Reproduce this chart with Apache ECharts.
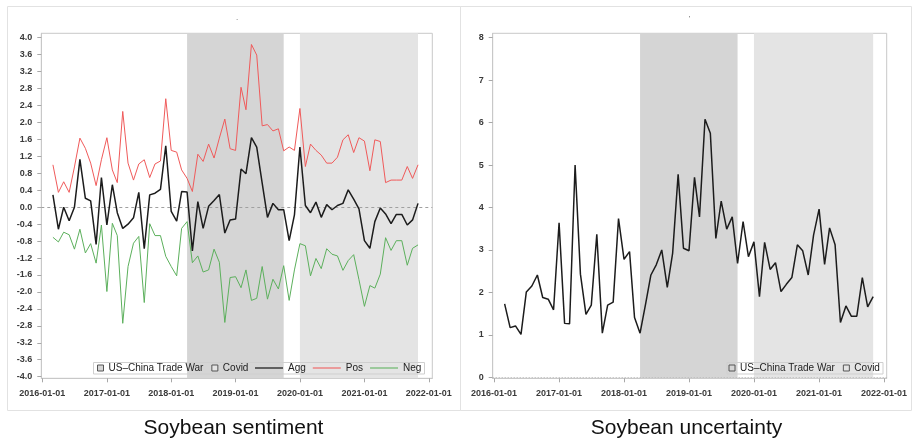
<!DOCTYPE html>
<html><head><meta charset="utf-8">
<script src="https://cdn.jsdelivr.net/npm/echarts@6/dist/echarts.min.js"></script>
<style>html,body{margin:0;padding:0;background:#fff}#c{width:912px;height:440px}</style>
</head><body><div id="c"></div>
<script>
const months = ['2016-03-01','2016-04-01','2016-05-01','2016-06-01','2016-07-01','2016-08-01','2016-09-01','2016-10-01','2016-11-01','2016-12-01',
'2017-01-01','2017-02-01','2017-03-01','2017-04-01','2017-05-01','2017-06-01','2017-07-01','2017-08-01','2017-09-01','2017-10-01','2017-11-01','2017-12-01',
'2018-01-01','2018-02-01','2018-03-01','2018-04-01','2018-05-01','2018-06-01','2018-07-01','2018-08-01','2018-09-01','2018-10-01','2018-11-01','2018-12-01',
'2019-01-01','2019-02-01','2019-03-01','2019-04-01','2019-05-01','2019-06-01','2019-07-01','2019-08-01','2019-09-01','2019-10-01','2019-11-01','2019-12-01',
'2020-01-01','2020-02-01','2020-03-01','2020-04-01','2020-05-01','2020-06-01','2020-07-01','2020-08-01','2020-09-01','2020-10-01','2020-11-01','2020-12-01',
'2021-01-01','2021-02-01','2021-03-01','2021-04-01','2021-05-01','2021-06-01','2021-07-01','2021-08-01','2021-09-01','2021-10-01','2021-11-01'];
const agg = [0.29,-0.52,0.0,-0.32,0.0,1.13,0.21,0.15,-0.88,0.70,-0.42,0.53,-0.13,-0.5,-0.4,-0.25,0.35,-0.98,0.29,0.33,0.42,1.45,-0.1,-0.33,0.37,0.36,-1.03,0.13,-0.5,0.02,0.16,0.3,-0.61,-0.3,-0.28,0.9,0.79,1.64,1.42,0.57,-0.24,0.09,-0.06,-0.06,-0.79,-0.18,1.42,0.04,-0.13,0.12,-0.24,0.06,-0.06,0.04,0.09,0.41,0.19,-0.04,-0.79,-0.97,-0.34,-0.02,-0.16,-0.39,-0.17,-0.17,-0.42,-0.3,0.09];
const pos = [1.0,0.35,0.6,0.35,0.95,1.63,1.39,1.04,0.51,1.12,1.64,0.88,0.58,2.26,1.04,0.64,1.02,1.12,0.7,1.02,1.09,2.56,1.34,1.3,0.88,0.68,0.37,1.25,1.08,1.49,1.16,1.63,2.08,1.38,1.34,2.83,2.3,3.84,3.59,1.92,1.95,1.8,1.85,1.33,1.42,1.34,2.33,0.96,1.49,1.34,1.23,1.04,1.04,1.18,1.59,1.71,1.29,1.64,1.56,0.86,1.59,1.55,0.58,0.64,0.64,0.64,0.96,0.68,1.0];
const neg = [-0.71,-0.82,-0.59,-0.65,-0.99,-0.52,-1.08,-0.86,-1.32,-0.42,-1.99,-0.38,-0.67,-2.74,-1.4,-0.85,-0.69,-2.25,-0.39,-0.67,-0.67,-1.16,-1.4,-1.62,-0.5,-0.34,-1.31,-1.15,-1.53,-1.48,-0.99,-1.3,-2.72,-1.66,-1.64,-1.9,-1.48,-2.2,-2.15,-1.4,-2.17,-1.7,-1.93,-1.38,-2.2,-1.48,-0.86,-0.91,-1.62,-1.21,-1.45,-0.98,-1.11,-1.15,-1.49,-1.26,-1.12,-1.71,-2.34,-1.85,-1.91,-1.58,-0.72,-1.02,-0.79,-0.79,-1.37,-0.97,-0.89];
const unc = [1.73,1.17,1.21,1.01,2.01,2.15,2.41,1.88,1.84,1.59,3.64,1.27,1.26,5.0,2.43,1.48,1.7,3.37,1.04,1.7,1.77,3.74,2.78,2.96,1.41,1.04,1.7,2.41,2.65,3.0,2.12,2.92,4.78,3.04,2.98,4.71,3.78,6.08,5.75,3.27,4.15,3.49,3.78,2.68,3.67,2.84,3.19,1.9,3.18,2.54,2.7,2.02,2.19,2.35,3.12,2.98,2.41,3.35,3.96,2.66,3.52,3.12,1.29,1.68,1.44,1.44,2.35,1.66,1.9];
const yearTicks = ['2016-01-01','2017-01-01','2018-01-01','2019-01-01','2020-01-01','2021-01-01','2022-01-01'];
const sentTicks = [-4.0,-3.6,-3.2,-2.8,-2.4,-2.0,-1.6,-1.2,-0.8,-0.4,0.0,0.4,0.8,1.2,1.6,2.0,2.4,2.8,3.2,3.6,4.0];
const uncTicks = [0,1,2,3,4,5,6,7,8];
const tradeWar = ['2018-04-01','2019-10-01'];
const covid = ['2020-01-01','2021-11-01'];
const titles = ['Soybean sentiment','Soybean uncertainty'];

const FONT = '"Liberation Sans", Arial, sans-serif';
function ts(s){const p=s.split('-');return new Date(+p[0],+p[1]-1,+p[2]).getTime();}
function pad(n){return (n<10?'0':'')+n;}
function fmt(v){const d=new Date(v);return d.getFullYear()+'-'+pad(d.getMonth()+1)+'-'+pad(d.getDate());}
const yearTs = yearTicks.map(ts);
const AX = '#c8c8c8', TK = '#a8a8a8', LBL = '#3a3a3a';
const TW_COL = '#d5d5d5', CV_COL = '#e4e4e4';
const AGG_COL = '#1c1c1c', POS_COL = '#f05a5a', NEG_COL = '#5cb05c';

function xAx(gi,min,max){return {type:'value',gridIndex:gi,min:min,max:max,scale:true,
  axisLine:{show:true,onZero:false,lineStyle:{color:AX}},
  axisTick:{show:true,length:4,lineStyle:{color:TK},customValues:yearTs},
  axisLabel:{customValues:yearTs,formatter:fmt,fontSize:9,fontWeight:'bold',color:LBL,margin:11,fontFamily:FONT,hideOverlap:false},
  splitLine:{show:false}};}
function yAx(gi,min,max,ticks,f){return {type:'value',gridIndex:gi,min:min,max:max,
  axisLine:{show:true,onZero:false,lineStyle:{color:AX}},
  axisTick:{show:true,length:4,lineStyle:{color:TK},customValues:ticks},
  axisLabel:{customValues:ticks,formatter:f,fontSize:9,fontWeight:'bold',color:LBL,margin:9,fontFamily:FONT},
  splitLine:{show:false}};}
function shade(name,gi,range,col){return {name:name,type:'line',xAxisIndex:gi,yAxisIndex:gi,data:[],symbol:'none',z:1,
  lineStyle:{color:col},itemStyle:{color:col},
  markArea:{silent:true,itemStyle:{color:col},data:[[{xAxis:ts(range[0])},{xAxis:ts(range[1])}]]}};}
function ln(name,gi,vals,col,w,z){return {name:name,type:'line',xAxisIndex:gi,yAxisIndex:gi,symbol:'none',z:z,
  data:months.map((m,i)=>[ts(m),vals[i]]),lineStyle:{color:col,width:w},itemStyle:{color:col},emphasis:{disabled:true}};}

const legendText = {fontSize:10,color:'#222',fontFamily:FONT,lineHeight:11};
const sq = n => ({name:n,icon:'rect',itemStyle:{color:n==='Covid'?CV_COL:TW_COL,borderColor:'#555',borderWidth:1}});
const li = (n,c) => ({name:n,icon:'rect',itemStyle:{color:c,borderWidth:0,opacity:n==='Agg'?0.85:0.7}});

const aggS = ln('Agg',0,agg,AGG_COL,1.5,5);
aggS.markLine = {silent:true,symbol:'none',label:{show:false},lineStyle:{color:'#a0a0a0',type:[3,3],width:1},data:[{yAxis:0}]};
const uncS = ln('Uncertainty',1,unc,AGG_COL,1.5,5);
uncS.markLine = {silent:true,symbol:'none',label:{show:false},lineStyle:{color:'#b8b8b8',type:[1,2],width:1},data:[{yAxis:0}]};

const option = {
  animation:false,
  backgroundColor:'#fff',
  tooltip:{show:false},
  grid:[
    {left:41.3,top:33.3,width:391,height:345,show:true,borderColor:AX,borderWidth:1,backgroundColor:'transparent'},
    {left:492.7,top:33.3,width:394,height:345,show:true,borderColor:AX,borderWidth:1,backgroundColor:'transparent'}
  ],
  xAxis:[xAx(0,ts('2015-12-26'),ts('2022-01-21')), xAx(1,ts('2015-12-25'),ts('2022-01-16'))],
  yAxis:[yAx(0,-4.038,4.104,sentTicks,v=>(+v).toFixed(1)), yAx(1,-0.024,8.104,uncTicks,v=>String(Math.round(v)))],
  legend:[
    {left:97,top:362.5,padding:0,itemWidth:6,itemHeight:6,itemGap:8,data:[sq('US–China Trade War'),sq('Covid')],textStyle:legendText},
    {left:255,top:362.5,padding:0,itemWidth:28,itemHeight:1.5,itemGap:7,data:[li('Agg',AGG_COL),li('Pos',POS_COL),li('Neg',NEG_COL)],textStyle:legendText},
    {left:728.5,top:362.5,padding:0,itemWidth:6,itemHeight:6,itemGap:8,data:[sq('US–China Trade War'),sq('Covid')],textStyle:legendText}
  ],
  series:[
    shade('US–China Trade War',0,tradeWar,TW_COL),
    shade('Covid',0,covid,CV_COL),
    ln('Neg',0,neg,NEG_COL,1,3),
    ln('Pos',0,pos,POS_COL,1,4),
    aggS,
    shade('US–China Trade War',1,tradeWar,TW_COL),
    shade('Covid',1,covid,CV_COL),
    uncS
  ],
  graphic:[
    {type:'rect',shape:{x:7.5,y:6.5,width:453,height:404},style:{fill:'none',stroke:'#e2e2e2',lineWidth:1},silent:true},
    {type:'rect',shape:{x:460.5,y:6.5,width:451,height:404},style:{fill:'none',stroke:'#e2e2e2',lineWidth:1},silent:true},
    {type:'rect',shape:{x:93.5,y:362.5,width:331,height:11.5},style:{fill:'none',stroke:'#cfcfcf',lineWidth:1},silent:true,z:10},
    {type:'rect',shape:{x:727,y:362.5,width:156,height:11.5},style:{fill:'none',stroke:'#cfcfcf',lineWidth:1},silent:true,z:10},
    {type:'text',x:233.5,y:428,style:{text:titles[0],fontSize:21,fontFamily:FONT,fill:'#111',align:'center',verticalAlign:'middle'},silent:true},
    {type:'text',x:686.5,y:428,style:{text:titles[1],fontSize:21,fontFamily:FONT,fill:'#111',align:'center',verticalAlign:'middle'},silent:true},
    {type:'text',x:237,y:21.5,style:{text:'.',fontSize:8,fontFamily:FONT,fill:'#555',align:'center',verticalAlign:'bottom'},silent:true},
    {type:'text',x:689.3,y:16,style:{text:"'",fontSize:7,fontFamily:FONT,fill:'#555',align:'center',verticalAlign:'top'},silent:true}
  ]
};
const chart = echarts.init(document.getElementById('c'),null,{renderer:'canvas'});
chart.setOption(option);
</script></body></html>
